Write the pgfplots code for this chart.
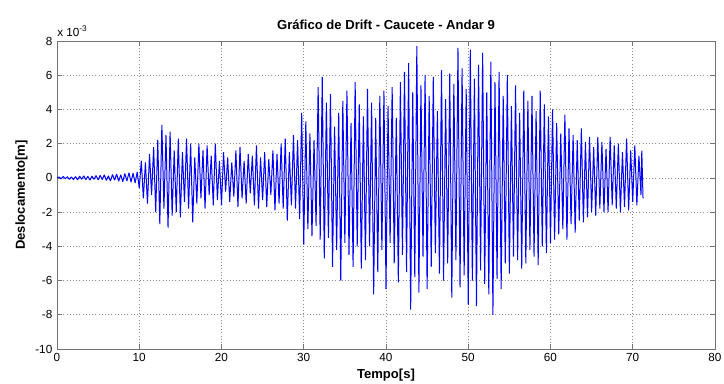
\documentclass[border=0pt]{standalone}
\usepackage{pgfplots}
\pgfplotsset{compat=1.18}
\usepackage{fontspec}
\setmainfont{Liberation Sans}
\begin{document}
\begin{tikzpicture}
\path[use as bounding box] (-42.75pt,-25.5pt) rectangle (500.25pt,261.75pt);
\begin{axis}[
  at={(0,0)}, anchor=south west,
  scale only axis, width=493.5pt, height=231pt,
  xmin=0, xmax=80, ymin=-10, ymax=8,
  xtick={0,10,...,80}, ytick={-10,-8,...,8},
  grid=major,
  major grid style={dotted, black!45, line width=0.5pt},
  axis line style={black!55, line width=0.6pt},
  tick style={black!55, line width=0.5pt},
  tick align=inside,
  major tick length=4pt,
  ticklabel style={font=\fontsize{8.8}{10}\selectfont},
  /pgf/number format/assume math mode=true,
  clip=false,
]
\addplot[blue, line width=0.75pt, mark=none, line join=bevel] coordinates {
(0,0) (0.25,0.05) (0.5,-0.06) (0.75,0.08) (1,-0.05) (1.25,0.07) (1.5,-0.09) (1.75,0.06) (2,-0.1) (2.25,0.08)
(2.5,-0.12) (2.75,0.1) (3,-0.08) (3.25,0.12) (3.5,-0.1) (3.75,0.09) (4,-0.13) (4.25,0.1) (4.5,-0.08) (4.75,0.14)
(5,-0.12) (5.25,0.15) (5.5,-0.1) (5.75,0.18) (6,-0.15) (6.25,0.12) (6.5,-0.18) (6.75,0.2) (7,-0.14) (7.25,0.22)
(7.5,-0.2) (7.75,0.18) (8,-0.22) (8.25,0.25) (8.5,-0.18) (8.75,0.3) (9,-0.25) (9.25,0.28) (9.5,-0.3) (9.75,0.35)
(10,-0.6) (10.25,1.0) (10.5,-1.2) (10.75,0.9) (11,-1.5) (11.25,1.4) (11.5,-1.0) (11.75,1.8) (12,-2.0) (12.25,2.2)
(12.5,-2.7) (12.75,3.1) (13,-1.8) (13.25,2.5) (13.5,-2.9) (13.75,2.7) (14,-2.2) (14.25,1.6) (14.5,-2.0) (14.75,2.3)
(15,-2.3) (15.25,1.5) (15.5,-1.4) (15.75,2.3) (16,-1.8) (16.25,2.0) (16.5,-2.6) (16.75,1.2) (17,-1.5) (17.25,2.0)
(17.5,-1.2) (17.75,1.6) (18,-1.8) (18.25,1.9) (18.5,-1.0) (18.75,1.3) (19,-1.6) (19.25,2.0) (19.5,-1.3) (19.75,1.0)
(20,-1.6) (20.25,1.5) (20.5,-0.8) (20.75,1.2) (21,-1.4) (21.25,0.9) (21.5,-1.1) (21.75,1.6) (22,-1.7) (22.25,1.8)
(22.5,-1.2) (22.75,1.0) (23,-1.5) (23.25,1.4) (23.5,-0.9) (23.75,1.3) (24,-1.6) (24.25,1.9) (24.5,-1.8) (24.75,1.2)
(25,-1.3) (25.25,1.5) (25.5,-1.7) (25.75,1.1) (26,-1.0) (26.25,1.6) (26.5,-1.9) (26.75,1.4) (27,-1.5) (27.25,2.0)
(27.5,-1.8) (27.75,2.3) (28,-2.5) (28.25,1.5) (28.5,-1.6) (28.75,2.5) (29,-1.8) (29.25,2.2) (29.5,-2.4) (29.75,3.8)
(30,-3.9) (30.25,3.3) (30.5,-3.0) (30.75,2.6) (31,-3.4) (31.25,2.2) (31.5,-2.8) (31.75,5.3) (32,-3.6) (32.25,5.9)
(32.5,-4.7) (32.75,4.4) (33,-3.5) (33.25,4.9) (33.5,-5.2) (33.75,3.0) (34,-4.2) (34.25,3.8) (34.5,-6.0) (34.75,4.5)
(35,-3.8) (35.25,5.1) (35.5,-4.5) (35.75,3.2) (36,-5.2) (36.25,5.6) (36.5,-4.0) (36.75,4.3) (37,-5.3) (37.25,3.6)
(37.5,-4.8) (37.75,5.2) (38,-4.0) (38.25,4.4) (38.5,-6.8) (38.75,3.5) (39,-5.5) (39.25,4.8) (39.5,-4.2) (39.75,5.1)
(40,-6.5) (40.25,4.2) (40.5,-3.8) (40.75,5.3) (41,-5.0) (41.25,3.5) (41.5,-6.1) (41.75,5.6) (42,-4.5) (42.25,6.2)
(42.5,-5.5) (42.75,6.7) (43,-7.7) (43.25,5.0) (43.5,-5.8) (43.75,7.7) (44,-6.7) (44.25,5.4) (44.5,-4.6) (44.75,6.0)
(45,-6.5) (45.25,4.8) (45.5,-5.2) (45.75,5.9) (46,-4.4) (46.25,3.9) (46.5,-5.6) (46.75,6.3) (47,-6.0) (47.25,4.6)
(47.5,-5.0) (47.75,6.1) (48,-7.0) (48.25,5.5) (48.5,-4.8) (48.75,7.6) (49,-6.4) (49.25,6.4) (49.5,-5.7) (49.75,5.2)
(50,-7.4) (50.25,7.5) (50.5,-6.0) (50.75,5.8) (51,-7.5) (51.25,6.6) (51.5,-5.4) (51.75,7.3) (52,-6.2) (52.25,5.0)
(52.5,-6.8) (52.75,6.8) (53,-8.0) (53.25,5.6) (53.5,-5.9) (53.75,6.2) (54,-6.5) (54.25,4.8) (54.5,-5.0) (54.75,6.0)
(55,-5.6) (55.25,4.2) (55.5,-4.6) (55.75,5.4) (56,-4.8) (56.25,3.8) (56.5,-5.3) (56.75,5.1) (57,-5.0) (57.25,4.5)
(57.5,-4.2) (57.75,4.8) (58,-4.6) (58.25,3.9) (58.5,-5.1) (58.75,5.1) (59,-4.0) (59.25,4.3) (59.5,-4.4) (59.75,3.6)
(60,-3.8) (60.25,4.0) (60.5,-3.6) (60.75,3.2) (61,-3.3) (61.25,2.6) (61.5,-3.0) (61.75,3.7) (62,-3.6) (62.25,2.9)
(62.5,-2.7) (62.75,2.5) (63,-3.2) (63.25,2.2) (63.5,-2.5) (63.75,2.9) (64,-2.6) (64.25,2.1) (64.5,-2.3) (64.75,2.4)
(65,-2.0) (65.25,1.8) (65.5,-2.2) (65.75,2.4) (66,-1.8) (66.25,2.1) (66.5,-2.0) (66.75,1.7) (67,-2.0) (67.25,2.4)
(67.5,-1.6) (67.75,1.9) (68,-1.8) (68.25,2.0) (68.5,-2.0) (68.75,1.5) (69,-1.7) (69.25,2.3) (69.5,-1.9) (69.75,1.6)
(70,-1.4) (70.25,1.9) (70.5,-1.6) (70.75,1.3) (71,-1.0) (71.1,1.6) (71.25,-1.2)
};
\node[anchor=base, font=\fontsize{9.8}{11}\selectfont\bfseries] at (rel axis cs:0.5,1) [yshift=9pt] {Gráfico de Drift - Caucete - Andar 9};
\node[anchor=base west, inner sep=0pt, font=\fontsize{8.8}{10}\selectfont] at (rel axis cs:0,1) [yshift=3.5pt] {x 10\textsuperscript{-3}};
\node[anchor=base, font=\fontsize{9.8}{11}\selectfont\bfseries] at (rel axis cs:0.5,0) [yshift=-21.75pt] {Tempo[s]};
\node[rotate=90, anchor=base, font=\fontsize{9.8}{11}\selectfont\bfseries] at ([xshift=-24pt]rel axis cs:0,0.5) {Deslocamento[m]};
\end{axis}
\end{tikzpicture}
\end{document}
